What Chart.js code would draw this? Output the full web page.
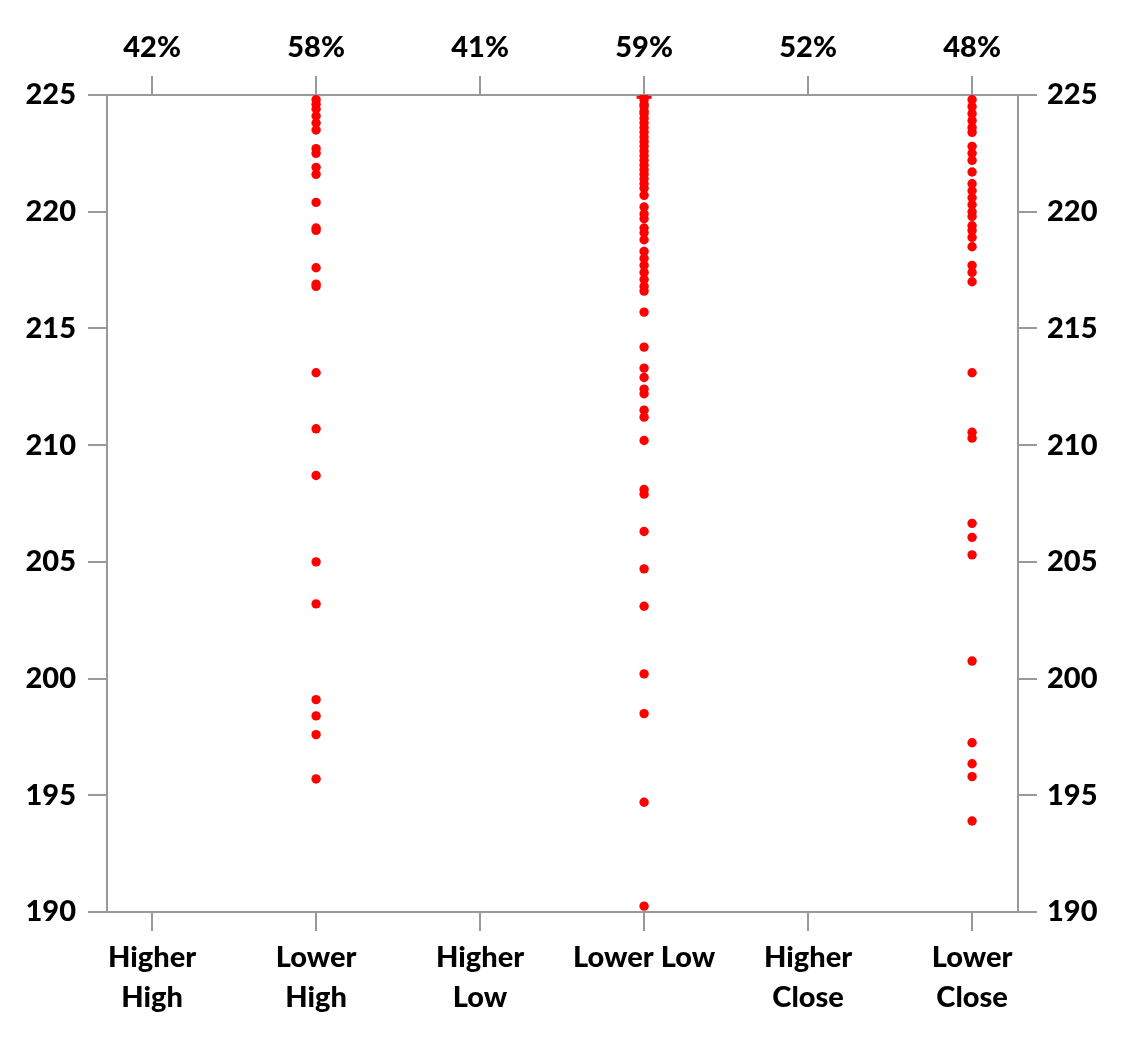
<!DOCTYPE html>
<html>
<head>
<meta charset="utf-8">
<script src="https://cdn.jsdelivr.net/npm/chart.js@4.4.1/dist/chart.umd.min.js"></script>
<style>
  html, body { margin: 0; padding: 0; background: #fff; }
  #wrap { width: 1125px; height: 1050px; }
</style>
</head>
<body>
<div id="wrap"><canvas id="dotChart" width="1125" height="1050"></canvas></div>
<script>
// categories along the bottom, and the share shown above each one
var categories = [['Higher', 'High'], ['Lower', 'High'], ['Higher', 'Low'], 'Lower Low', ['Higher', 'Close'], ['Lower', 'Close']];
var topLabels = ['42%', '58%', '41%', '59%', '52%', '48%'];
var yTicks = [190, 195, 200, 205, 210, 215, 220, 225];

// prices for each category that has points
var lowerHigh = [224.8, 224.6, 224.4, 224.1, 223.8, 223.5, 222.7, 222.5, 221.9, 221.6, 220.4, 219.3, 219.2,
    217.6, 216.9, 216.8, 213.1, 210.7, 208.7, 205.0, 203.2, 199.1, 198.4, 197.6, 195.7];
var lowerLow = [224.9, 224.8, 224.6, 224.5, 224.3, 224.2, 224.0, 223.8, 223.6, 223.4, 223.2, 223.0, 222.8,
    222.6, 222.4, 222.2, 222.0, 221.8, 221.6, 221.4, 221.2, 221.0, 220.7, 220.2, 219.9, 219.7, 219.3, 219.1,
    218.8, 218.3, 218.0, 217.7, 217.4, 217.1, 216.8, 216.6, 215.7, 214.2, 213.3, 212.9, 212.4, 212.2, 211.5,
    211.2, 210.2, 208.1, 207.9, 206.3, 204.7, 203.1, 200.2, 198.5, 194.7, 190.25];
var lowerClose = [224.8, 224.5, 224.2, 223.9, 223.6, 223.4, 222.8, 222.5, 222.2, 221.7, 221.2, 220.9, 220.6,
    220.3, 220.0, 219.8, 219.4, 219.2, 218.9, 218.5, 217.7, 217.4, 217.0, 213.1, 210.55, 210.3, 206.65,
    206.05, 205.3, 200.75, 197.25, 196.35, 195.8, 193.9];
var lowLowCap = [224.9];

function toPoints(arr, pos) {
    return arr.map(function (v) { return { x: pos, y: v }; });
}

var labelFont = { family: 'Lato', size: 29, weight: '900', lineHeight: 1.4 };
var axisGray = '#999999';

function intTicks(scale) {
    scale.ticks = categories.map(function (c, i) { return { value: i + 1 }; });
}
function fixedTicks(scale) {
    scale.ticks = yTicks.map(function (v) { return { value: v }; });
}

var ctx = document.getElementById('dotChart').getContext('2d');
var myChart = new Chart(ctx, {
    type: 'scatter',
    data: {
        datasets: [
            { data: toPoints(lowerHigh, 2), backgroundColor: '#ff0000', borderWidth: 0, pointRadius: 4.7 },
            { data: toPoints(lowerLow, 4), backgroundColor: '#ff0000', borderWidth: 0, pointRadius: 4.7 },
            { data: toPoints(lowerClose, 6), backgroundColor: '#ff0000', borderWidth: 0, pointRadius: 4.7 },
            { data: toPoints(lowLowCap, 4), pointStyle: 'line', borderColor: '#ff0000', borderWidth: 3, pointRadius: 7.5 }
        ]
    },
    options: {
        responsive: false,
        animation: false,
        events: [],
        layout: { padding: 0 },
        plugins: { legend: { display: false }, tooltip: { enabled: false } },
        scales: {
            x: {
                type: 'linear',
                position: 'bottom',
                min: 0.725,
                max: 6.28,
                afterBuildTicks: intTicks,
                afterFit: function (scale) { scale.height = 138; },
                grid: { drawOnChartArea: false, color: axisGray, lineWidth: 2, tickLength: 19 },
                border: { color: axisGray, width: 2 },
                ticks: {
                    autoSkip: false,
                    maxRotation: 0,
                    padding: 6,
                    color: '#000',
                    font: labelFont,
                    callback: function (v) { return categories[v - 1]; }
                }
            },
            xTop: {
                type: 'linear',
                position: 'top',
                min: 0.725,
                max: 6.28,
                afterBuildTicks: intTicks,
                afterFit: function (scale) { scale.height = 95; },
                grid: { drawOnChartArea: false, color: axisGray, lineWidth: 2, tickLength: 19 },
                border: { color: axisGray, width: 2 },
                ticks: {
                    autoSkip: false,
                    maxRotation: 0,
                    padding: 8,
                    color: '#000',
                    font: labelFont,
                    callback: function (v) { return topLabels[v - 1]; }
                }
            },
            y: {
                position: 'left',
                min: 190,
                max: 225,
                afterBuildTicks: fixedTicks,
                afterFit: function (scale) { scale.width = 107; },
                grid: { drawOnChartArea: false, color: axisGray, lineWidth: 2, tickLength: 19 },
                border: { color: axisGray, width: 2 },
                ticks: { padding: 12, color: '#000', font: labelFont }
            },
            yRight: {
                position: 'right',
                min: 190,
                max: 225,
                afterBuildTicks: fixedTicks,
                afterFit: function (scale) { scale.width = 107; },
                grid: { drawOnChartArea: false, color: axisGray, lineWidth: 2, tickLength: 19 },
                border: { color: axisGray, width: 2 },
                ticks: { padding: 10, color: '#000', font: labelFont }
            }
        }
    }
});
</script>
</body>
</html>
